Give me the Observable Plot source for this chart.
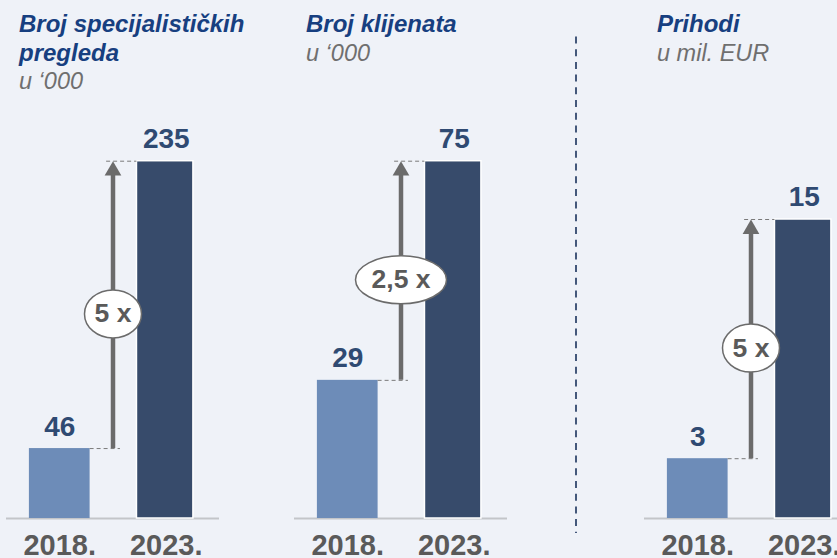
<!DOCTYPE html>
<html>
<head>
<meta charset="utf-8">
<script src="https://cdn.jsdelivr.net/npm/d3@7"></script>
<script src="https://cdn.jsdelivr.net/npm/@observablehq/plot@0.6"></script>
<style>
  html, body { margin: 0; padding: 0; background: #eff2f8; }
  #chart { position: relative; width: 837px; height: 558px; overflow: hidden; background: #eff2f8;
           font-family: "Liberation Sans", Arial, sans-serif; }
  .head { position: absolute; top: 10px; line-height: 28.5px; }
  .title { font-size: 24px; font-weight: bold; font-style: italic; color: #173f80; }
  .unit { font-size: 23.5px; font-style: italic; color: #6f6f6f; }
  #divider { position: absolute; left: 570px; top: 0; }
</style>
</head>
<body>
<div id="chart"></div>
<script>
// ---- data ----
const years = ["2018.", "2023."];
const titles = ["Broj specijalističkih pregleda", "Broj klijenata", "Prihodi"];
const units = ["u ‘000", "u ‘000", "u mil. EUR"];
const pregledi = [46, 235];
const klijenti = [29, 75];
const prihodi = [3, 15];
const ratios = ["5 x", "2,5 x", "5 x"];

// ---- layout / style ----
const panels = [
  {values: pregledi, left: 6, titleLeft: 19, titleWidth: 270, marginTop: 60.7},
  {values: klijenti, left: 294, titleLeft: 306, titleWidth: 260, marginTop: 60.7},
  {values: prihodi, left: 644, titleLeft: 657, titleWidth: 180, marginTop: 119}
];
const chart = document.getElementById("chart");
const DARK = "#374b6b", LIGHT = "#6d8cb8", LABEL = "#2f4a72", GREY = "#6b6b6b";
const HW = 0.285; // half bar width in category units

function ellipseSymbol(rx, ry) {
  const k = 0.5523;
  return {
    draw(ctx) {
      ctx.moveTo(rx, 0);
      ctx.bezierCurveTo(rx, ry * k, rx * k, ry, 0, ry);
      ctx.bezierCurveTo(-rx * k, ry, -rx, ry * k, -rx, 0);
      ctx.bezierCurveTo(-rx, -ry * k, -rx * k, -ry, 0, -ry);
      ctx.bezierCurveTo(rx * k, -ry, rx, -ry * k, rx, 0);
      ctx.closePath();
    }
  };
}

panels.forEach((p, k) => {
  // headings
  const head = document.createElement("div");
  head.className = "head";
  head.style.left = p.titleLeft + "px";
  head.style.width = p.titleWidth + "px";
  const t = document.createElement("div");
  t.className = "title";
  t.textContent = titles[k];
  const u = document.createElement("div");
  u.className = "unit";
  u.textContent = units[k];
  head.appendChild(t);
  head.appendChild(u);
  chart.appendChild(head);

  const data = years.map((year, i) => ({i, year, v: p.values[i]}));
  const v0 = p.values[0], v1 = p.values[1];
  const mid = (v0 + v1) / 2;
  const xm = 0.5; // midway between the two categories
  const ratio = ratios[k];
  const rx = 8.5 * ratio.length + 3;

  const svg = Plot.plot({
    width: 213,
    height: 470,
    marginLeft: 0,
    marginRight: 0,
    marginTop: p.marginTop,
    marginBottom: 52,
    x: {domain: [-0.5, 1.5]},
    y: {domain: [0, d3.max(p.values)], axis: null},
    style: {background: "transparent", overflow: "visible", color: "#5a5a5a",
            fontFamily: "'Liberation Sans', Arial, sans-serif"},
    marks: [
      Plot.ruleY([0], {stroke: "#c3c5c9", strokeWidth: 2}),
      Plot.rectY(data.filter(d => d.i === 0), {x1: d => d.i - HW, x2: d => d.i + HW, y: "v", fill: LIGHT}),
      Plot.rectY(data.filter(d => d.i === 1), {x1: d => d.i - HW + 0.01, x2: d => d.i + HW - 0.03, y: "v", fill: DARK, stroke: "white", strokeWidth: 1.5}),
      // dashed connectors
      Plot.ruleY([v1], {y: d => d, x1: () => xm - 0.06, x2: () => 1 - HW + 0.01, stroke: "#7a7a7a", strokeWidth: 1, strokeDasharray: "4,3"}),
      Plot.ruleY([v0], {y: d => d, x1: () => HW, x2: () => xm + 0.07, stroke: "#7a7a7a", strokeWidth: 1, strokeDasharray: "4,3"}),
      // arrow shaft and head
      Plot.ruleX([xm], {x: d => d, y1: () => v1, y2: () => v0, stroke: GREY, strokeWidth: 4.5, insetTop: 12}),
      Plot.dot([xm], {x: d => d, y: () => v1, symbol: "triangle", r: 6.2, fill: GREY, dy: 9.6}),
      // ratio bubble
      Plot.dot([ratio], {x: () => xm, y: () => mid, symbol: ellipseSymbol(rx, 24), r: 1, fill: "white", stroke: GREY, strokeWidth: 1.5, dy: 9}),
      Plot.text([ratio], {x: () => xm, y: () => mid, text: d => d, dy: 9, lineAnchor: "middle", fontSize: 26.5, fontWeight: "bold", fill: "#5a5a5a"}),
      // value labels
      Plot.text(data, {x: "i", y: "v", text: d => String(d.v), lineAnchor: "middle", dy: -22, fontSize: 28, fontWeight: "bold", fill: LABEL}),
      // category axis
      Plot.axisX({ticks: [0, 1], tickFormat: i => years[i], tickSize: 0, tickPadding: 16, fontSize: 29, fontWeight: "bold", label: null})
    ]
  });
  svg.style.position = "absolute";
  svg.style.left = p.left + "px";
  svg.style.top = "100px";
  chart.appendChild(svg);
});

// dashed divider between the customer and revenue panels
const ns = "http://www.w3.org/2000/svg";
const div = document.createElementNS(ns, "svg");
div.setAttribute("id", "divider");
div.setAttribute("width", "12");
div.setAttribute("height", "558");
const line = document.createElementNS(ns, "line");
line.setAttribute("x1", "6"); line.setAttribute("x2", "6");
line.setAttribute("y1", "36.5"); line.setAttribute("y2", "533");
line.setAttribute("stroke", "#44587b");
line.setAttribute("stroke-width", "2");
line.setAttribute("stroke-dasharray", "7,5.7");
div.appendChild(line);
chart.appendChild(div);
</script>
</body>
</html>
